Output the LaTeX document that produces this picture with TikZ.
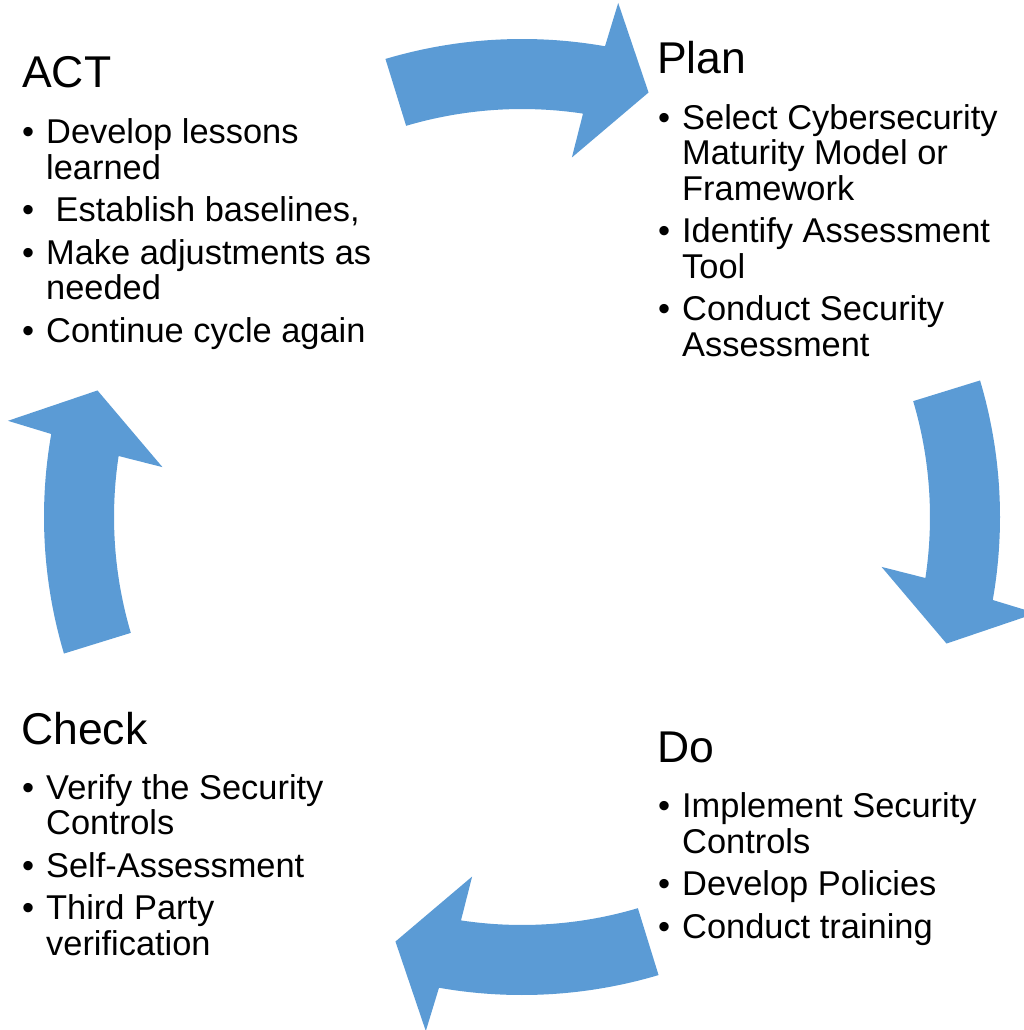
\documentclass[tikz,border=0pt]{standalone}
\usepackage{fontspec}
\setmainfont{Liberation Sans}
\definecolor{arrowblue}{RGB}{91,155,213}
\newcommand\bitem{\makebox[24pt][l]{•}}
\newcommand\bcont{\hspace*{24pt}}
\begin{document}
\begin{tikzpicture}[x=1pt,y=1pt,
  titletext/.style={anchor=base west, inner sep=0pt, font=\fontsize{44.5}{50}\selectfont},
  bodytext/.style={anchor=base west, inner sep=0pt, align=left, font=\fontsize{34.4}{35.5}\selectfont},
  cyclearrow/.style={fill=arrowblue, draw=none}]
\useasboundingbox (0,0) rectangle (1024,-1030);
\begin{scope}
\clip (0,0) rectangle (1024,-1030);
\foreach \t in {0,-90,-180,-270}{
  \fill[cyclearrow, shift={(522,-517)}, rotate=\t]
    (106.6:478) arc[start angle=106.6, end angle=80.0, radius=478]
    -- (79.4:523) -- (73.4:443) -- (82.1:363) -- (81.4:408)
    arc[start angle=81.4, end angle=106.5, radius=408] -- cycle;
}
\end{scope}
% ACT (base anchor = baseline of the last line)
\node[titletext] (act) at (22,-88) {ACT};
\node[bodytext] (actlist) at (22,-342) {\bitem Develop lessons\\ \bcont learned\\[7pt]
  \bitem\ Establish baselines,\\[7pt]
  \bitem Make adjustments as\\ \bcont needed\\[7pt]
  \bitem Continue cycle again};
% Plan
\node[titletext] (plan) at (657,-74) {Plan};
\node[bodytext] (planlist) at (658,-356) {\bitem Select Cybersecurity\\ \bcont Maturity Model or\\ \bcont Framework\\[7pt]
  \bitem Identify Assessment\\ \bcont Tool\\[7pt]
  \bitem Conduct Security\\ \bcont Assessment};
% Do
\node[titletext] (do) at (657,-762) {Do};
\node[bodytext] (dolist) at (658,-938) {\bitem Implement Security\\ \bcont Controls\\[7pt]
  \bitem Develop Policies\\[7pt]
  \bitem Conduct training};
% Check
\node[titletext] (check) at (21,-744) {Check};
\node[bodytext] (checklist) at (22,-955) {\bitem Verify the Security\\ \bcont Controls\\[7pt]
  \bitem Self-Assessment\\[7pt]
  \bitem Third Party\\ \bcont verification};
\end{tikzpicture}
\end{document}
